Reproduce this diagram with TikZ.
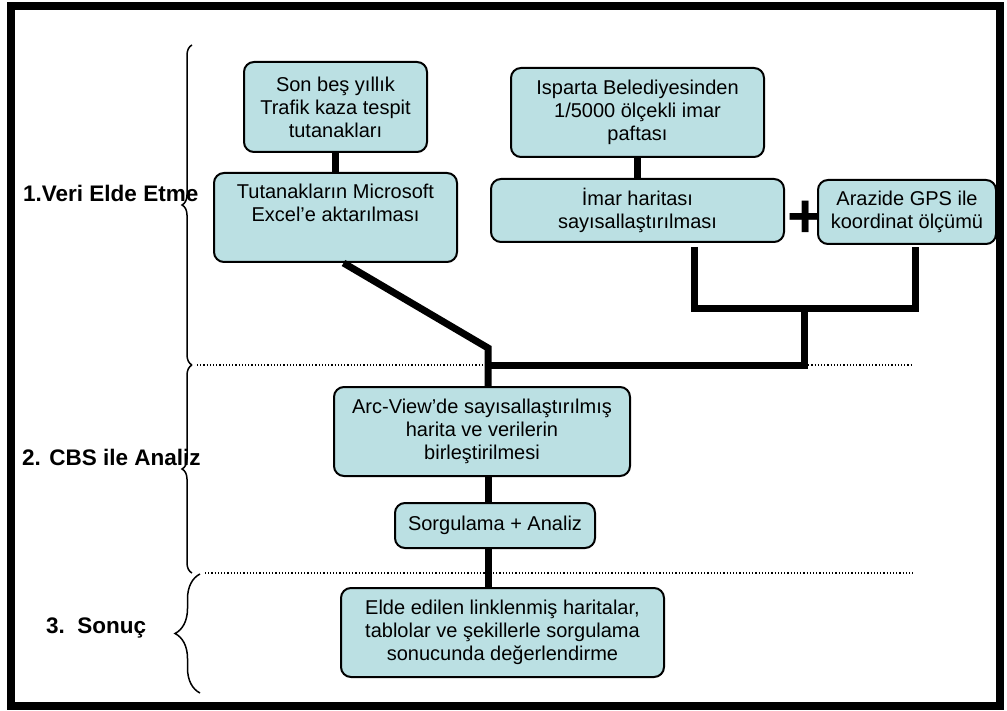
\documentclass[tikz,border=0pt]{standalone}
\usepackage{fontspec}
\setmainfont{Liberation Sans}
\usetikzlibrary{decorations.pathreplacing}
\definecolor{boxfill}{RGB}{187,224,227}
\tikzset{
  stepbox/.style={draw, line width=2pt, rounded corners=10pt, fill=boxfill,
    align=center, inner sep=2pt, font=\fontsize{20}{23}\selectfont},
  link/.style={line width=7pt},
  sep/.style={line width=1.2pt, dash pattern=on 1.2pt off 2pt},
  phase/.style={anchor=west, inner sep=0pt, font=\fontsize{22.5}{26}\selectfont\bfseries},
  bracket/.style={decorate, decoration={brace, amplitude=#1}, line width=1.5pt},
}
\begin{document}
\begin{tikzpicture}[x=1pt,y=-1pt]
  \useasboundingbox (0,0) rectangle (1007,711);
  % Frame
  \draw[line width=8pt] (11,6) rectangle (1000,706);

  % Phase labels and braces
  \node[phase] (lab1) at (23,193) {1.Veri Elde Etme};
  \node[phase] (lab2) at (22,457) {2. CBS ile Analiz};
  \node[phase] (lab3) at (46,628) {3.\ \ Sonuç};
  \draw[bracket=10pt] (192,365) -- (192,45);
  \draw[bracket=10pt] (192,573) -- (192,365);
  \draw[bracket=25pt] (200,693) -- (200,574);

  % Separators
  \draw[sep] (197,365) -- (913,365);
  \draw[sep] (205,573) -- (913,573);

  % Boxes
  \node[stepbox, minimum width=183pt, minimum height=90pt] (tutanak) at (335.5,107)
    {Son beş yıllık\\Trafik kaza tespit\\tutanakları};
  \node[stepbox, minimum width=243pt, minimum height=89pt] (excel) at (335.5,217.5)
    {Tutanakların Microsoft\\Excel’e aktarılması\\ \strut};
  \node[stepbox, minimum width=253pt, minimum height=89pt] (pafta) at (637.5,112.5)
    {Isparta Belediyesinden\\1/5000 ölçekli imar\\paftası};
  \node[stepbox, minimum width=293pt, minimum height=63pt] (imar) at (637.5,210.5)
    {İmar haritası\\sayısallaştırılması};
  \node[font=\fontsize{62}{62}\selectfont\bfseries, inner sep=0pt] (plus) at (806,219) {+};
  \node[stepbox, minimum width=178pt, minimum height=64pt] (gps) at (907,212)
    {Arazide GPS ile\\koordinat ölçümü};
  \node[stepbox, minimum width=296pt, minimum height=89pt] (arcview) at (482,431.5)
    {Arc-View’de sayısallaştırılmış\\harita ve verilerin\\birleştirilmesi};
  \node[stepbox, minimum width=200pt, minimum height=45pt] (sorgu) at (495,525.5)
    {Sorgulama + Analiz};
  \node[stepbox, minimum width=323pt, minimum height=89pt] (sonuc) at (502.5,632.5)
    {Elde edilen linklenmiş haritalar,\\tablolar ve şekillerle sorgulama\\sonucunda değerlendirme};

  % Junction points
  \coordinate (bend) at (488,348);
  \coordinate (join) at (488,366);
  \coordinate (mid) at (804,366);
  \coordinate (midtop) at (804,309);
  \coordinate (left) at (694,309);
  \coordinate (right) at (915,309);
  \coordinate (imartop) at (694,247);
  \coordinate (gpstop) at (915,247);

  % Connectors
  \draw[link] (tutanak) -- (excel);
  \draw[link] (pafta) -- (imar);
  \draw[link] ([xshift=8pt]excel.south) -- (bend) -- (arcview.north -| bend);
  \draw[link] (imartop) -- (left) -- (right) -- (gpstop);
  \draw[link] (midtop) -- (mid) -- (join);
  \draw[link] (arcview.south -| bend) -- (sorgu.north -| bend);
  \draw[link] (sorgu.south -| bend) -- (sonuc.north -| bend);
\end{tikzpicture}
\end{document}
